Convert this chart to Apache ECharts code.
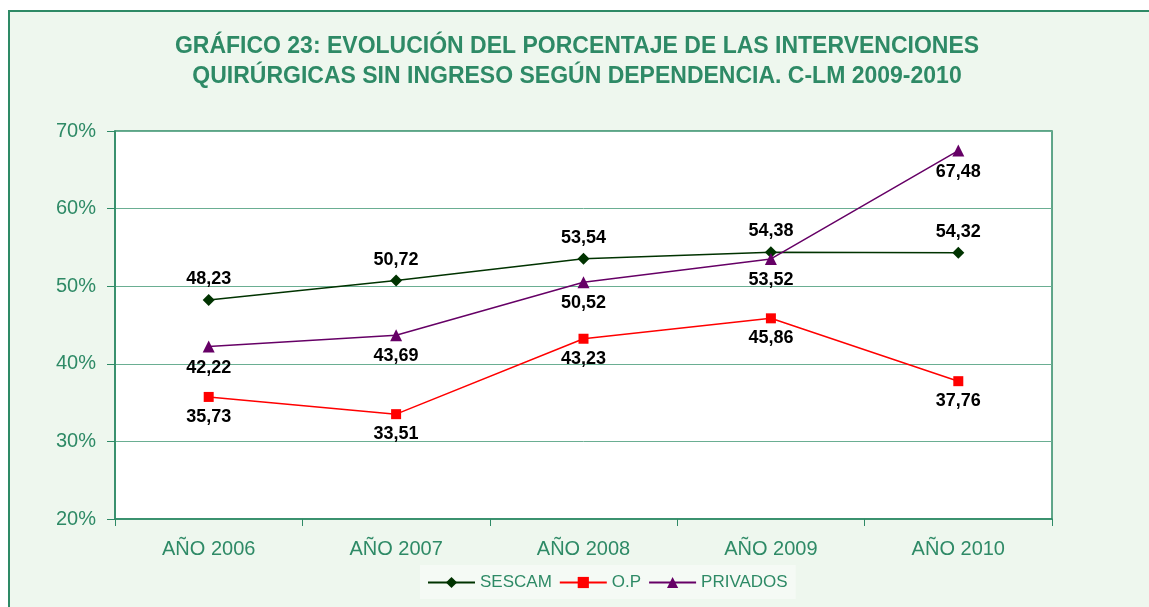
<!DOCTYPE html>
<html>
<head>
<meta charset="utf-8">
<script src="https://cdn.jsdelivr.net/npm/echarts@6/dist/echarts.min.js"></script>
<style>
  html, body { margin: 0; padding: 0; background: #fff; overflow: hidden; }
  #frame { position: absolute; left: 8px; top: 10px; width: 1160px; height: 620px;
           border: 2px solid #2e8a66; background: #eef7ee; }
  #chart { position: absolute; left: -10px; top: -12px; width: 1149px; height: 607px; }
</style>
</head>
<body>
<div id="frame"><div id="chart"></div></div>
<script>
const years = ['AÑO 2006', 'AÑO 2007', 'AÑO 2008', 'AÑO 2009', 'AÑO 2010'];
const sescam = [48.23, 50.72, 53.54, 54.38, 54.32];
const op = [35.73, 33.51, 43.23, 45.86, 37.76];
const privados = [42.22, 43.69, 50.52, 53.52, 67.48];

const green = '#2e8a66';
const fmt = (p) => p.value.toFixed(2).replace('.', ',');
const labelStyle = (pos) => ({
  show: true, position: pos, distance: 6, formatter: fmt,
  color: '#000', fontWeight: 'bold', fontSize: 18, fontFamily: 'Liberation Sans, Arial'
});

const chart = echarts.init(document.getElementById('chart'));
chart.setOption({
  backgroundColor: 'transparent',
  animation: false,
  title: {
    text: 'GRÁFICO 23: EVOLUCIÓN DEL PORCENTAJE DE LAS INTERVENCIONES\nQUIRÚRGICAS SIN INGRESO SEGÚN DEPENDENCIA. C-LM 2009-2010',
    left: 572, textAlign: 'center', top: 27,
    textStyle: { color: green, fontSize: 23, fontWeight: 'bold', fontFamily: 'Liberation Sans, Arial', lineHeight: 30 }
  },
  legend: {
    top: 565, left: 420,
    backgroundColor: '#f5faf5',
    padding: [9, 8, 8, 7],
    itemGap: 7, itemWidth: 47, itemHeight: 14,
    textStyle: { color: green, fontSize: 17, fontFamily: 'Liberation Sans, Arial' },
    data: ['SESCAM', 'O.P', 'PRIVADOS']
  },
  grid: {
    left: 115, right: 97, top: 131, bottom: 88,
    show: true, backgroundColor: '#fff', borderColor: green, borderWidth: 1.5
  },
  xAxis: {
    type: 'category', data: years, boundaryGap: true,
    axisLine: { lineStyle: { color: green, width: 1.5 } },
    axisTick: { show: true, length: 7, lineStyle: { color: green } },
    axisLabel: { color: green, fontSize: 20, margin: 20, fontFamily: 'Liberation Sans, Arial' }
  },
  yAxis: {
    type: 'value', min: 20, max: 70, interval: 10,
    axisLine: { show: true, lineStyle: { color: green, width: 1.5 } },
    axisTick: { show: true, length: 8, lineStyle: { color: green } },
    axisLabel: { color: green, fontSize: 20, margin: 19, formatter: '{value}%', fontFamily: 'Liberation Sans, Arial' },
    splitLine: { lineStyle: { color: '#6aae92', width: 1 } }
  },
  series: [
    {
      name: 'SESCAM', type: 'line', data: sescam,
      symbol: 'diamond', symbolSize: 12,
      lineStyle: { color: '#003300', width: 1.5 }, itemStyle: { color: '#003300' },
      label: labelStyle('top')
    },
    {
      name: 'O.P', type: 'line', data: op,
      symbol: 'rect', symbolSize: 10,
      lineStyle: { color: '#ff0000', width: 1.5 }, itemStyle: { color: '#ff0000' },
      label: labelStyle('bottom')
    },
    {
      name: 'PRIVADOS', type: 'line', data: privados,
      symbol: 'triangle', symbolSize: 12,
      lineStyle: { color: '#660066', width: 1.5 }, itemStyle: { color: '#660066' },
      label: labelStyle('bottom')
    }
  ]
});
</script>
</body>
</html>
